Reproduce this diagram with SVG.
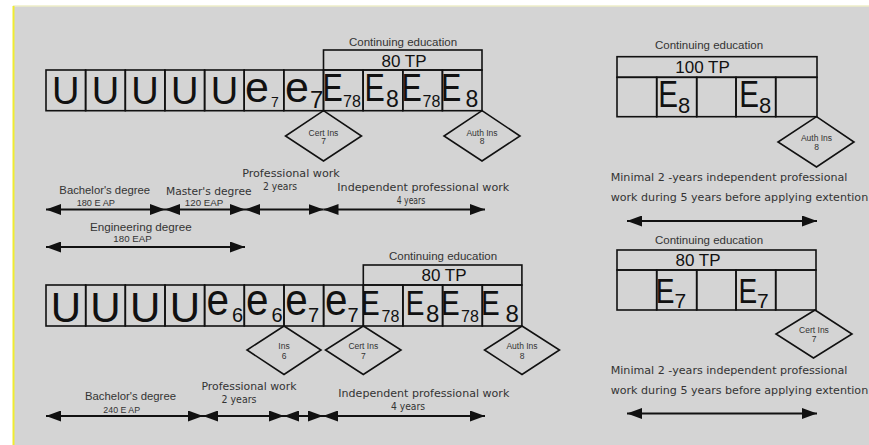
<svg xmlns="http://www.w3.org/2000/svg" width="869" height="445" viewBox="0 0 869 445">
<defs>
<style>
.cell{fill:none;stroke:#111;stroke-width:1.6}
.dia{fill:none;stroke:#111;stroke-width:1.6}
.big{font-family:"Liberation Sans",Arial,sans-serif;fill:#111}
.dt{font-family:"Liberation Sans",Arial,sans-serif;font-size:8.5px;fill:#333;text-anchor:middle}
.lbl{font-family:"Liberation Sans",Arial,sans-serif;font-size:11px;fill:#333;text-anchor:middle}
.sm{font-family:"Liberation Sans",Arial,sans-serif;font-size:9px;fill:#333;text-anchor:middle}
.lbl2{font-family:"DejaVu Sans",Verdana,sans-serif;font-size:10px;fill:#333;text-anchor:middle}
.lbl3{font-family:"DejaVu Sans",Verdana,sans-serif;font-size:10px;fill:#333}
.title{font-family:"Liberation Sans",Arial,sans-serif;font-size:11.5px;fill:#333;text-anchor:middle}
.tp{font-family:"Liberation Sans",Arial,sans-serif;font-size:17px;fill:#111;text-anchor:middle}
.conn{stroke:#111;stroke-width:2;fill:none;marker-start:url(#ah);marker-end:url(#ah)}
</style>
<marker id="ah" viewBox="0 0 15 11" refX="15" refY="5.5" markerWidth="15" markerHeight="11" markerUnits="userSpaceOnUse" orient="auto-start-reverse">
<path d="M0,0 L15,5.5 L0,11 Z" fill="#111"/>
</marker>
</defs>

<rect x="0" y="0" width="869" height="445" fill="#ffffff"/>
<rect x="13" y="6" width="856" height="439" fill="#d4d4d4"/>
<line x1="13" y1="6" x2="869" y2="6" stroke="#eeeec8" stroke-width="1.5"/>
<line x1="13.5" y1="6" x2="13.5" y2="445" stroke="#f0ec30" stroke-width="2"/>

<!-- Top row -->
<g id="top-ce">
<text class="title" x="403" y="45.5">Continuing education</text>
<rect class="cell" x="323.5" y="50" width="158.5" height="20"/>
<text class="tp" x="404" y="66.5">80 TP</text>
</g>
<g id="t0"><rect class="cell" x="46" y="70" width="39.6" height="40.7"/><text class="big" font-size="38" text-anchor="middle" x="65.8" y="103.5">U</text></g>
<g id="t1"><rect class="cell" x="85.6" y="70" width="39.7" height="40.7"/><text class="big" font-size="38" text-anchor="middle" x="105.4" y="103.5">U</text></g>
<g id="t2"><rect class="cell" x="125.3" y="70" width="39.6" height="40.7"/><text class="big" font-size="38" text-anchor="middle" x="145.1" y="103.5">U</text></g>
<g id="t3"><rect class="cell" x="164.9" y="70" width="39.7" height="40.7"/><text class="big" font-size="38" text-anchor="middle" x="184.7" y="103.5">U</text></g>
<g id="t4"><rect class="cell" x="204.6" y="70" width="39.6" height="40.7"/><text class="big" font-size="38" text-anchor="middle" x="224.4" y="103.5">U</text></g>
<g id="t5"><rect class="cell" x="244.2" y="70" width="39.6" height="40.7"/><text class="big" font-size="43" x="245" y="101.5">e</text><text class="big" font-size="14" x="271" y="107">7</text></g>
<g id="t6"><rect class="cell" x="283.8" y="70" width="39.7" height="40.7"/><text class="big" font-size="43" x="285" y="101.5">e</text><text class="big" font-size="24" x="310" y="107.5">7</text></g>
<g id="t7"><rect class="cell" x="323.5" y="70" width="39.6" height="40.7"/><text class="big" font-size="38" transform="translate(322.6,100.5) scale(0.8,1)">E</text><text class="big" font-size="16" x="343" y="107">78</text></g>
<g id="t8"><rect class="cell" x="363.1" y="70" width="39.7" height="40.7"/><text class="big" font-size="38" transform="translate(364.6,100.5) scale(0.8,1)">E</text><text class="big" font-size="23" x="386" y="107">8</text></g>
<g id="t9"><rect class="cell" x="402.8" y="70" width="39.6" height="40.7"/><text class="big" font-size="38" transform="translate(401.6,100.5) scale(0.8,1)">E</text><text class="big" font-size="16" x="422.5" y="107">78</text></g>
<g id="t10"><rect class="cell" x="442.4" y="70" width="39.6" height="40.7"/><text class="big" font-size="38" transform="translate(441,100.5) scale(0.8,1)">E</text><text class="big" font-size="23" x="465.5" y="107">8</text></g>

<g id="top-cert7"><polygon class="dia" points="323.5,110.7 361.5,136 323.5,161 285.5,136"/><text class="dt" x="323.5" y="135.5">Cert Ins</text><text class="dt" x="323.5" y="144">7</text></g>
<g id="top-auth8"><polygon class="dia" points="482,110.7 520,136 482,161 444,136"/><text class="dt" x="482" y="135.5">Auth Ins</text><text class="dt" x="482" y="144">8</text></g>

<g id="top-labels">
<text class="lbl" x="104.7" y="194" textLength="90.7" lengthAdjust="spacingAndGlyphs">Bachelor's degree</text>
<text class="sm" x="95.8" y="206" textLength="38.3" lengthAdjust="spacingAndGlyphs">180 E AP</text>
<text class="lbl2" x="208.8" y="194.5" textLength="85.7" lengthAdjust="spacingAndGlyphs">Master's degree</text>
<text class="sm" x="204" y="206" textLength="38.3" lengthAdjust="spacingAndGlyphs">120 EAP</text>
<text class="lbl2" x="291" y="177" textLength="97.7" lengthAdjust="spacingAndGlyphs">Professional work</text>
<text class="lbl2" x="280" y="189.5" font-size="9" textLength="34" lengthAdjust="spacingAndGlyphs">2 years</text>
<text class="lbl2" x="423.3" y="190.5" textLength="172" lengthAdjust="spacingAndGlyphs">Independent professional work</text>
<text class="lbl2" x="411" y="204" font-size="9" textLength="28.5" lengthAdjust="spacingAndGlyphs">4 years</text>
<text class="lbl" x="140.8" y="231" textLength="101.7" lengthAdjust="spacingAndGlyphs">Engineering degree</text>
<text class="sm" x="132.5" y="242" textLength="38.3" lengthAdjust="spacingAndGlyphs">180 EAP</text>
</g>

<!-- Bottom row -->
<g id="bot-ce">
<text class="title" x="443" y="260">Continuing education</text>
<rect class="cell" x="363.3" y="265" width="158.6" height="20"/>
<text class="tp" x="444" y="281">80 TP</text>
</g>
<g id="b0"><rect class="cell" x="46" y="285" width="39.7" height="41"/><text class="big" font-size="42" text-anchor="middle" x="65.8" y="321.5">U</text></g>
<g id="b1"><rect class="cell" x="85.7" y="285" width="39.6" height="41"/><text class="big" font-size="42" text-anchor="middle" x="105.5" y="321.5">U</text></g>
<g id="b2"><rect class="cell" x="125.3" y="285" width="39.7" height="41"/><text class="big" font-size="42" text-anchor="middle" x="145.2" y="321.5">U</text></g>
<g id="b3"><rect class="cell" x="165" y="285" width="39.6" height="41"/><text class="big" font-size="42" text-anchor="middle" x="184.8" y="321.5">U</text></g>
<g id="b4"><rect class="cell" x="204.6" y="285" width="39.7" height="41"/><text class="big" font-size="44" transform="translate(206.5,314.5) scale(0.92,1)">e</text><text class="big" font-size="20" x="232" y="322">6</text></g>
<g id="b5"><rect class="cell" x="244.3" y="285" width="39.7" height="41"/><text class="big" font-size="44" transform="translate(246,314.5) scale(0.92,1)">e</text><text class="big" font-size="20" x="271.5" y="322">6</text></g>
<g id="b6"><rect class="cell" x="284" y="285" width="39.6" height="41"/><text class="big" font-size="44" transform="translate(285.3,314.5) scale(0.92,1)">e</text><text class="big" font-size="20" x="308" y="322">7</text></g>
<g id="b7"><rect class="cell" x="323.6" y="285" width="39.7" height="41"/><text class="big" font-size="44" transform="translate(325,314.5) scale(0.92,1)">e</text><text class="big" font-size="20" x="347.5" y="322">7</text></g>
<g id="b8"><rect class="cell" x="363.3" y="285" width="39.6" height="41"/><text class="big" font-size="35" transform="translate(361.1,315) scale(0.8,1)">E</text><text class="big" font-size="16" x="381.5" y="322">78</text></g>
<g id="b9"><rect class="cell" x="402.9" y="285" width="39.7" height="41"/><text class="big" font-size="35" transform="translate(405.8,315) scale(0.8,1)">E</text><text class="big" font-size="24" x="426" y="322">8</text></g>
<g id="b10"><rect class="cell" x="442.6" y="285" width="39.7" height="41"/><text class="big" font-size="35" transform="translate(441.1,315) scale(0.8,1)">E</text><text class="big" font-size="16" x="461" y="322">78</text></g>
<g id="b11"><rect class="cell" x="482.3" y="285" width="39.6" height="41"/><text class="big" font-size="35" transform="translate(481.1,315) scale(0.8,1)">E</text><text class="big" font-size="24" x="505.5" y="322">8</text></g>

<g id="bot-ins6"><polygon class="dia" points="284,326 321,350 284,374.5 247,350"/><text class="dt" x="284" y="349">Ins</text><text class="dt" x="284" y="358.5">6</text></g>
<g id="bot-cert7"><polygon class="dia" points="363.3,326 401,350 363.3,374.5 325.5,350"/><text class="dt" x="363.3" y="349">Cert Ins</text><text class="dt" x="363.3" y="358.5">7</text></g>
<g id="bot-auth8"><polygon class="dia" points="522,326 559.5,350 522,374.5 484.5,350"/><text class="dt" x="522" y="349">Auth Ins</text><text class="dt" x="522" y="358.5">8</text></g>

<g id="bot-labels">
<text class="lbl" x="130.5" y="400" textLength="91" lengthAdjust="spacingAndGlyphs">Bachelor's degree</text>
<text class="sm" x="121.7" y="413" textLength="36.7" lengthAdjust="spacingAndGlyphs">240 E AP</text>
<text class="lbl2" x="249" y="390" textLength="95" lengthAdjust="spacingAndGlyphs">Professional work</text>
<text class="lbl2" x="239" y="403" font-size="9" textLength="35" lengthAdjust="spacingAndGlyphs">2 years</text>
<text class="lbl2" x="423.8" y="397" textLength="171" lengthAdjust="spacingAndGlyphs">Independent professional work</text>
<text class="lbl2" x="408" y="410" font-size="9" textLength="34" lengthAdjust="spacingAndGlyphs">4 years</text>
</g>

<!-- Right top panel -->
<g id="r1-ce">
<text class="title" x="709" y="49">Continuing education</text>
<rect class="cell" x="617" y="56.7" width="200" height="20.6"/>
<text class="tp" x="702.5" y="73">100 TP</text>
</g>
<g id="r1c0"><rect class="cell" x="617" y="77.3" width="39.7" height="39.4"/></g>
<g id="r1c1"><rect class="cell" x="656.7" y="77.3" width="40" height="39.4"/><text class="big" font-size="37" transform="translate(658.3,106.5) scale(0.8,1)">E</text><text class="big" font-size="22" x="678" y="112.5">8</text></g>
<g id="r1c2"><rect class="cell" x="696.7" y="77.3" width="39.3" height="39.4"/></g>
<g id="r1c3"><rect class="cell" x="736" y="77.3" width="39.7" height="39.4"/><text class="big" font-size="37" transform="translate(739.3,106.5) scale(0.8,1)">E</text><text class="big" font-size="22" x="759" y="112.5">8</text></g>
<g id="r1c4"><rect class="cell" x="775.7" y="77.3" width="41.3" height="39.4"/></g>
<g id="r1-auth8"><polygon class="dia" points="816.5,116.7 854,142 816.5,167 778,142"/><text class="dt" x="816.5" y="140.5">Auth Ins</text><text class="dt" x="816.5" y="149.5">8</text></g>
<g id="r1-text">
<text class="lbl3" x="610.7" y="181" textLength="236.7" lengthAdjust="spacingAndGlyphs">Minimal 2 -years independent professional</text>
<text class="lbl3" x="610.7" y="201" textLength="257.5" lengthAdjust="spacingAndGlyphs">work during 5 years before applying extention</text>
</g>

<!-- Right bottom panel -->
<g id="r2-ce">
<text class="title" x="709" y="244">Continuing education</text>
<rect class="cell" x="617" y="250" width="199" height="20"/>
<text class="tp" x="698" y="266">80 TP</text>
</g>
<g id="r2c0"><rect class="cell" x="617" y="270" width="39.7" height="40"/></g>
<g id="r2c1"><rect class="cell" x="656.7" y="270" width="40" height="40"/><text class="big" font-size="35" transform="translate(655.8,303) scale(0.8,1)">E</text><text class="big" font-size="21" x="674.5" y="308">7</text></g>
<g id="r2c2"><rect class="cell" x="696.7" y="270" width="39.3" height="40"/></g>
<g id="r2c3"><rect class="cell" x="736" y="270" width="39.7" height="40"/><text class="big" font-size="35" transform="translate(738.5,303) scale(0.8,1)">E</text><text class="big" font-size="21" x="757" y="308">7</text></g>
<g id="r2c4"><rect class="cell" x="775.7" y="270" width="40.3" height="40"/></g>
<g id="r2-cert7"><polygon class="dia" points="815,310 852,334 813.5,358 776,334"/><text class="dt" x="814" y="332.5">Cert Ins</text><text class="dt" x="814" y="341.5">7</text></g>
<g id="r2-text">
<text class="lbl3" x="610.7" y="374" textLength="236.7" lengthAdjust="spacingAndGlyphs">Minimal 2 -years independent professional</text>
<text class="lbl3" x="610.7" y="394" textLength="257.5" lengthAdjust="spacingAndGlyphs">work during 5 years before applying extention</text>
</g>

<g id="connectors">
<line class="conn" x1="46" y1="209.5" x2="165" y2="209.5"/>
<line class="conn" x1="165" y1="209.5" x2="245" y2="209.5"/>
<line class="conn" x1="245" y1="209.5" x2="323.5" y2="209.5"/>
<line class="conn" x1="323.5" y1="209.5" x2="485" y2="209.5"/>
<line class="conn" x1="46" y1="247" x2="245" y2="247"/>
<line class="conn" x1="46" y1="416" x2="203" y2="416"/>
<line class="conn" x1="203" y1="416" x2="284" y2="416"/>
<line class="conn" x1="284" y1="416" x2="323" y2="416"/>
<line class="conn" x1="323" y1="416" x2="485" y2="416"/>
<line class="conn" x1="627" y1="221" x2="817" y2="221"/>
<line class="conn" x1="627" y1="413.5" x2="817" y2="413.5"/>
</g>
</svg>
